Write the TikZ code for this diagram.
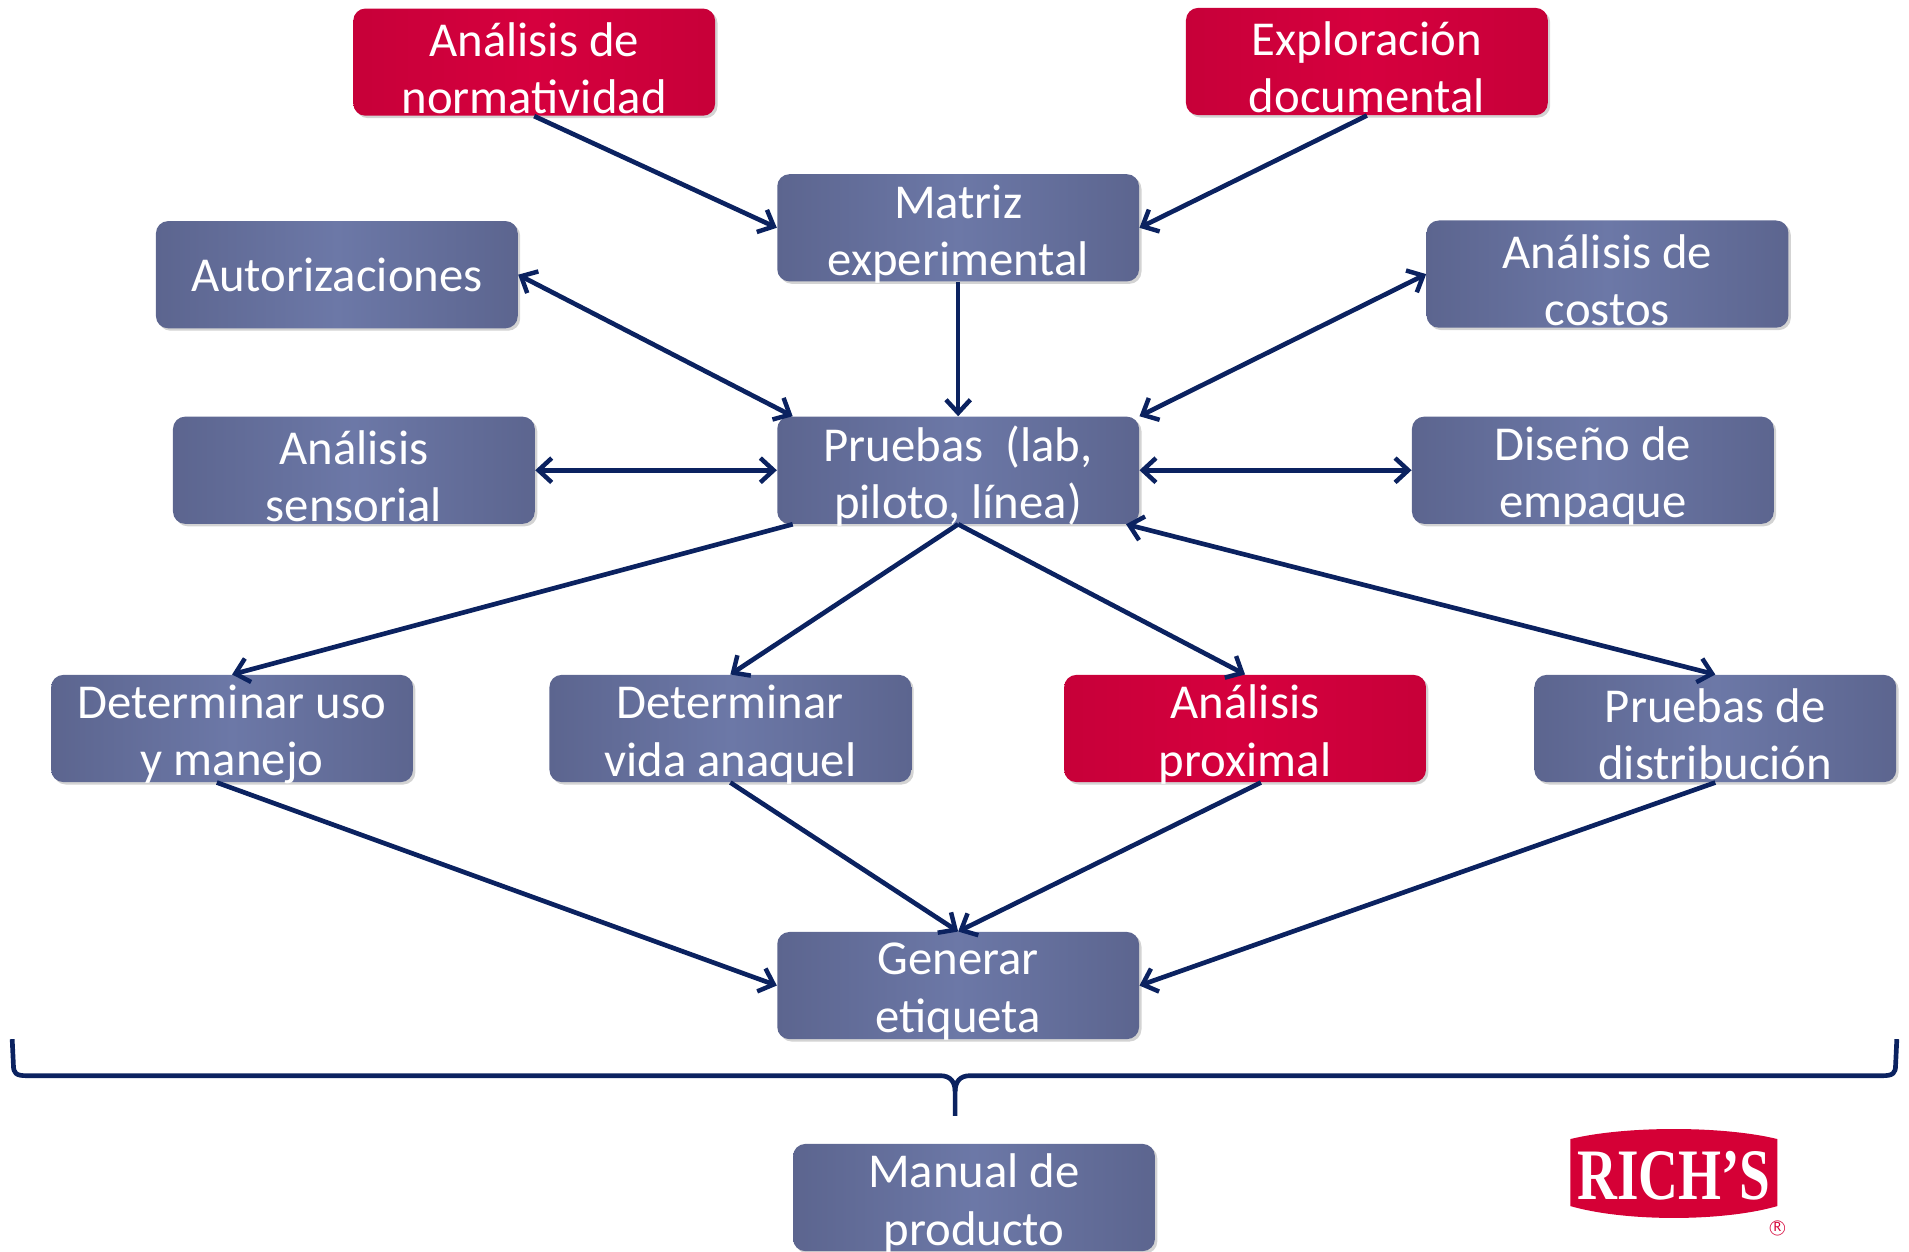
\documentclass[tikz,border=0pt]{standalone}
\usepackage{fontspec}
\setmainfont{Carlito}
\newfontfamily\logofont{Liberation Serif}
\usetikzlibrary{arrows.meta,shadows}
\definecolor{bxd}{HTML}{5C658F}
\definecolor{bxl}{HTML}{6C78A7}
\definecolor{rdd}{HTML}{C70039}
\definecolor{rdl}{HTML}{D6003E}
\definecolor{navy}{HTML}{0B2260}
\definecolor{logored}{HTML}{D50036}
\tikzset{
  box/.style={rectangle, rounded corners=6pt, minimum width=178.2pt, minimum height=52.8pt,
    inner sep=0pt, align=center, text=white, font=\fontsize{24}{28.2}\selectfont,
    left color=bxd, right color=bxd, middle color=bxl,
    drop shadow={opacity=0.35, shadow xshift=1.2pt, shadow yshift=-1.2pt}},
  redbox/.style={box, left color=rdd, right color=rdd, middle color=rdl},
  boxtext/.style={inner sep=0pt, align=center, text=white, font=\fontsize{24}{28.2}\selectfont,
    label distance=0pt, yshift=-3pt},
  barb/.tip={Straight Barb[length=6.5pt,width=12pt,line width=2.2pt]},
  conn/.style={draw=navy, line width=2.3pt, -barb},
  biconn/.style={conn, barb-barb}
}
\begin{document}
\begin{tikzpicture}[x=0.6pt,y=-0.6pt]
\useasboundingbox (0,0) rectangle (1567,1027);
% boxes
\node[redbox, label={[boxtext]center:{Análisis de\\normatividad}}] (norm) at (438.5,51) {};
\node[redbox, label={[boxtext]center:{Exploración\\documental}}] (expl) at (1122,50.5) {};
\node[box, label={[boxtext]center:{Matriz\\experimental}}] (matriz) at (786.5,187) {};
\node[box] (auto) at (276.5,225.5) {Autorizaciones};
\node[box, label={[boxtext]center:{Análisis de\\costos}}] (costos) at (1319.5,225) {};
\node[box, label={[boxtext]center:{Análisis\\sensorial}}] (sens) at (290.5,386) {};
\node[box, label={[boxtext]center:{Pruebas~~(lab,\\piloto, línea)}}] (pruebas) at (786.5,386) {};
\node[box, label={[boxtext]center:{Diseño de\\empaque}}] (diseno) at (1307.5,386) {};
\node[box, label={[boxtext]center:{Determinar uso\\y manejo}}] (uso) at (190.5,598) {};
\node[box, label={[boxtext]center:{Determinar\\vida anaquel}}] (vida) at (599.5,598) {};
\node[redbox, label={[boxtext]center:{Análisis\\proximal}}] (prox) at (1022,598) {};
\node[box, label={[boxtext]center:{Pruebas de\\distribución}}] (dist) at (1408,598) {};
\node[box, label={[boxtext]center:{Generar\\etiqueta}}] (gen) at (786.5,809) {};
\node[box, label={[boxtext]center:{Manual de\\producto}}] (manual) at (799.5,983) {};
% connectors
\draw[conn] (norm.south) -- (matriz.west);
\draw[conn] (expl.south) -- (matriz.east);
\draw[conn] (matriz.south) -- (pruebas.north);
\draw[biconn] (auto.east) -- ([xshift=7.8pt]pruebas.north west);
\draw[biconn] (costos.west) -- (pruebas.north east);
\draw[biconn] (sens.east) -- (pruebas.west);
\draw[biconn] (pruebas.east) -- (diseno.west);
\draw[conn] ([xshift=7.8pt]pruebas.south west) -- (uso.north);
\draw[conn] (pruebas.south) -- (vida.north);
\draw[conn] (pruebas.south) -- (prox.north);
\draw[biconn] ([xshift=-6.6pt]pruebas.south east) -- (dist.north);
\draw[conn] ([xshift=-7.5pt]uso.south) -- (gen.west);
\draw[conn] (vida.south) -- (gen.north);
\draw[conn] ([xshift=7.8pt]prox.south) -- (gen.north);
\draw[conn] (dist.south) -- (gen.east);
% brace
\coordinate (bl) at (10,853);
\coordinate (br) at (1557,853);
\coordinate (btip) at (784,916);
\draw[navy, line width=2.3pt, line join=round]
  (bl) -- (11,874) .. controls (11,881) and (13,883) .. (22,883)
  -- (772,883) .. controls (780,883) and (784,888) .. (784,896) -- (btip);
\draw[navy, line width=2.3pt, line join=round]
  (br) -- (1556,874) .. controls (1556,881) and (1554,883) .. (1545,883)
  -- (796,883) .. controls (788,883) and (784,888) .. (784,896);
% logo
\fill[logored] (1289,935) .. controls (1334,924) and (1414,924) .. (1459,935)
  -- (1459,990) .. controls (1414,1003) and (1334,1003) .. (1289,990) -- cycle;
\node[text=white, inner sep=0pt] (logo) at (1374,965) {\scalebox{0.8}[1.05]{\logofont\bfseries\fontsize{34}{34}\selectfont RICH’S}};
\node[text=logored, inner sep=0pt] (reg) at (1459,1009) {\fontsize{8}{8}\selectfont\textcircled{\scriptsize R}};
\end{tikzpicture}
\end{document}
